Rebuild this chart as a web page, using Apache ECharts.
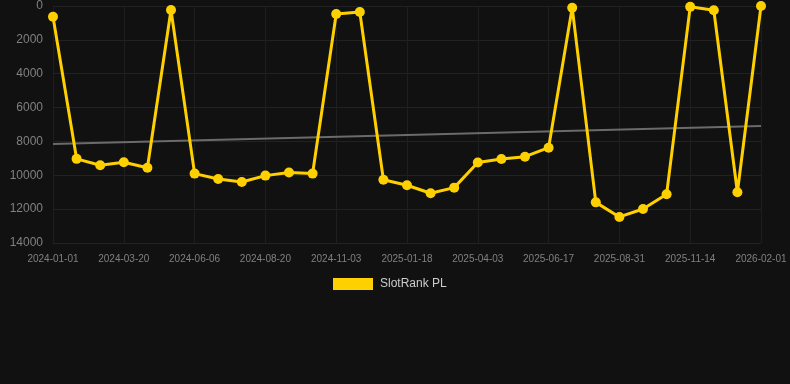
<!DOCTYPE html>
<html>
<head>
<meta charset="utf-8">
<script src="https://cdn.jsdelivr.net/npm/echarts@6/dist/echarts.min.js"></script>
<style>
  html, body { margin: 0; padding: 0; background: #111111; }
  #chart { width: 790px; height: 384px; }
</style>
</head>
<body>
<div id="chart"></div>
<script>
// dates of each ranking snapshot (every 3rd is labelled)
const dates = [
  "2024-01-01", "2024-01-27", "2024-02-23", "2024-03-20", "2024-04-15", "2024-05-11",
  "2024-06-06", "2024-07-01", "2024-07-26", "2024-08-20", "2024-09-14", "2024-10-09",
  "2024-11-03", "2024-11-28", "2024-12-23", "2025-01-18", "2025-02-12", "2025-03-09",
  "2025-04-03", "2025-04-28", "2025-05-23", "2025-06-17", "2025-07-12", "2025-08-06",
  "2025-08-31", "2025-09-25", "2025-10-20", "2025-11-14", "2025-12-10", "2026-01-05",
  "2026-02-01"
];

// rank values
const rankPL = [
  630, 9030, 9410, 9230, 9550, 240,
  9900, 10220, 10400, 10020, 9840, 9900,
  470, 350, 10260, 10590, 11060, 10730,
  9250, 9040, 8900, 8370, 100, 11600,
  12460, 11990, 11120, 50, 250, 11000,
  0
];

// trend line end points [category index, value]
const trendStart = [0, 8150];
const trendEnd = [30, 7090];

const yTicks = { min: 0, max: 14000, interval: 2000 };

const chart = echarts.init(document.getElementById("chart"));

chart.setOption({
  backgroundColor: "#111111",
  animation: false,
  grid: { left: 53, right: 29, top: 6, bottom: 141 },
  legend: {
    data: ["SlotRank PL"],
    top: 278,
    left: 333,
    padding: 0,
    itemWidth: 40,
    itemHeight: 12,
    icon: "rect",
    textStyle: {
      color: "#cccccc",
      fontSize: 12,
      padding: [0, 0, 0, 2],
      fontFamily: "Liberation Sans, Arial, sans-serif"
    }
  },
  xAxis: {
    type: "category",
    data: dates,
    boundaryGap: false,
    axisLine: { show: false },
    axisTick: { show: false },
    axisLabel: {
      interval: 2,
      color: "#808080",
      fontSize: 10,
      margin: 11,
      fontFamily: "Liberation Sans, Arial, sans-serif"
    },
    splitLine: {
      show: true,
      interval: 2,
      lineStyle: { color: "#1e1e1e", width: 1 }
    }
  },
  yAxis: {
    type: "value",
    inverse: true,
    min: yTicks.min,
    max: yTicks.max,
    interval: yTicks.interval,
    axisLine: { show: false },
    axisTick: { show: false },
    axisLabel: {
      color: "#808080",
      fontSize: 12,
      margin: 10,
      formatter: (v) => String(v),
      fontFamily: "Liberation Sans, Arial, sans-serif"
    },
    splitLine: { lineStyle: { color: "#222222", width: 1 } }
  },
  series: [
    {
      name: "SlotRank PL",
      type: "line",
      data: rankPL,
      symbol: "circle",
      symbolSize: 10,
      z: 3,
      itemStyle: { color: "#ffd000" },
      lineStyle: { color: "#ffd000", width: 3 }
    },
    {
      name: "trend",
      type: "line",
      data: [trendStart, trendEnd],
      showSymbol: false,
      symbol: "none",
      z: 2,
      lineStyle: { color: "#6b6b6b", width: 2 }
    }
  ]
});
</script>
</body>
</html>
